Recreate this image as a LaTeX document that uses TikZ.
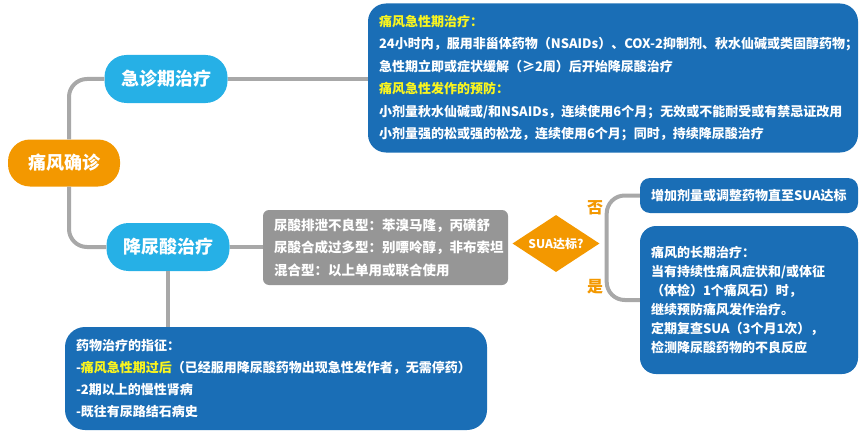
\documentclass[tikz,border=0pt]{standalone}
\usepackage{fontspec}
\setmainfont{Noto Sans CJK SC}
\usepackage{tikz}
\usetikzlibrary{shapes.geometric,positioning}

\definecolor{goutorange}{RGB}{243,152,0}
\definecolor{goutcyan}{RGB}{38,176,230}
\definecolor{goutblue}{RGB}{26,110,182}
\definecolor{goutgray}{RGB}{150,150,150}
\definecolor{linkgray}{RGB}{168,168,168}
\definecolor{hiyellow}{RGB}{250,245,30}

\begin{document}
\begin{tikzpicture}[x=1pt,y=-1pt,
	phase/.style={fill=goutcyan, text=white, rounded corners=22pt, minimum width=123pt, minimum height=48pt, font=\fontsize{18}{20}\selectfont\bfseries},
	infobox/.style={fill=goutblue, text=white, rounded corners=18pt, align=left, inner xsep=11pt, font=\fontsize{13}{22.5}\selectfont\bfseries},
	link/.style={draw=linkgray, line width=4pt}]
	\useasboundingbox (0,0) rectangle (865,436);

	% Draw the diagnosis and the two treatment phases
	\node[phase, fill=goutorange, minimum width=112pt, minimum height=47pt] (diagnosis) at (64,163) {痛风确诊};
	\node[phase] (acute) at (166,79) {急诊期治疗};
	\node[phase] (lowering) at (168,247) {降尿酸治疗};

	% Draw the acute phase box
	\node[infobox, minimum width=490pt, minimum height=149pt, text width=468pt] (acutebox) at (613,78) {%
		{\color{hiyellow}痛风急性期治疗：}\\
		\mbox{24小时内，服用非甾体药物（NSAIDs）、COX-2抑制剂、秋水仙碱或类固醇药物；}\\
		急性期立即或症状缓解（≥2周）后开始降尿酸治疗\\
		{\color{hiyellow}痛风急性发作的预防：}\\
		\mbox{小剂量秋水仙碱或/和NSAIDs，连续使用6个月；无效或不能耐受或有禁忌证改用}\\
		小剂量强的松或强的松龙，连续使用6个月；同时，持续降尿酸治疗};

	% Draw the drug types and the SUA check
	\node[infobox, fill=goutgray, rounded corners=6pt, minimum width=245pt, minimum height=75pt, text width=223pt, font=\fontsize{13.5}{22.5}\selectfont\bfseries] (drugs) at (385.5,247.5) {%
		尿酸排泄不良型：苯溴马隆，丙磺舒\\
		尿酸合成过多型：别嘌呤醇，非布索坦\\
		混合型：以上单用或联合使用};
	\node[diamond, fill=goutorange, text=white, inner sep=0pt, aspect=1.5, minimum width=87pt, minimum height=57pt, font=\fontsize{12}{14}\selectfont\bfseries] (sua) at (556,243.5) {SUA达标?};
	\node[text=goutorange, font=\fontsize{16}{18}\selectfont\bfseries] (no) at (595,208) {否};
	\node[text=goutorange, font=\fontsize{16}{18}\selectfont\bfseries] (yes) at (595,287) {是};

	% Draw the two outcomes
	\node[infobox, rounded corners=10pt, minimum width=218pt, minimum height=35pt, text width=196pt] (adjust) at (749,195.5) {增加剂量或调整药物直至SUA达标};
	\node[infobox, rounded corners=16pt, minimum width=218pt, minimum height=148pt, text width=196pt, font=\fontsize{13}{19}\selectfont\bfseries] (longterm) at (749,300) {%
		痛风的长期治疗：\\
		当有持续性痛风症状和/或体征\\
		（体检）1个痛风石）时，\\
		继续预防痛风发作治疗。\\
		定期复查SUA（3个月1次），\\
		检测降尿酸药物的不良反应};

	% Draw the indications box
	\node[infobox, rounded corners=20pt, minimum width=422pt, minimum height=103pt, text width=400pt, font=\fontsize{13}{22}\selectfont\bfseries] (indication) at (276,378.5) {%
		药物治疗的指征：\\
		\mbox{-{\color{hiyellow}痛风急性期过后}（已经服用降尿酸药物出现急性发作者，无需停药）}\\
		-2期以上的慢性肾病\\
		-既往有尿路结石病史};

	% Draw the connectors
	\draw[link, rounded corners=18pt] ([xshift=5pt]diagnosis.north) |- (acute.west);
	\draw[link, rounded corners=18pt] ([xshift=5pt]diagnosis.south) |- (lowering.west);
	\draw[link] (acute.east) -- (acute.east -| acutebox.west);
	\draw[link] (lowering.east) -- (lowering.east -| drugs.west);
	\draw[link] (lowering.south) -- (lowering.south |- indication.north);
	\draw[link, rounded corners=18pt] (adjust.west) -| ([xshift=7pt]sua.east) |- (longterm.west);
\end{tikzpicture}
\end{document}
